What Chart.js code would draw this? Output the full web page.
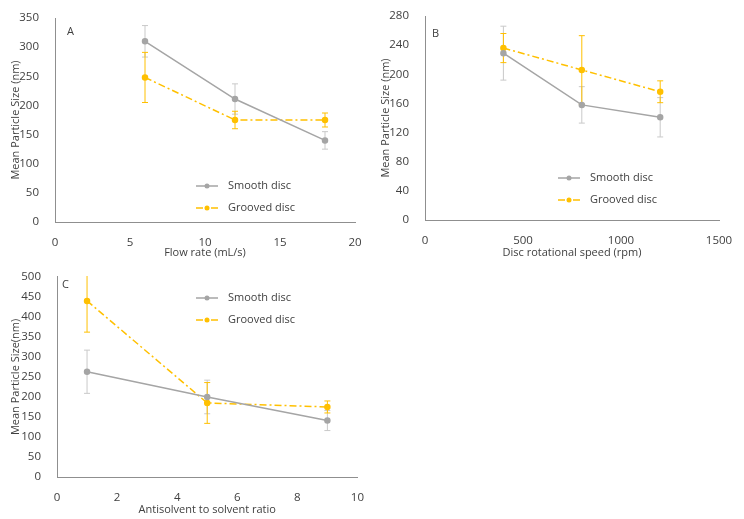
<!DOCTYPE html>
<html>
<head>
<meta charset="utf-8">
<script src="https://cdn.jsdelivr.net/npm/chart.js@4/dist/chart.umd.min.js"></script>
<style>
  body { margin: 0; background: #fff; }
  .panel { position: absolute; }
</style>
</head>
<body>
<div class="panel" style="left:0;top:0;width:370px;height:262px"><canvas id="chartA"></canvas></div>
<div class="panel" style="left:370px;top:0;width:374px;height:262px"><canvas id="chartB"></canvas></div>
<div class="panel" style="left:0;top:262px;width:370px;height:257px"><canvas id="chartC"></canvas></div>
<script>
'use strict';

/*          DATA          */
// panel A: flow rate
const flowRate = [6, 12, 18];
const smoothA = [310, 211, 140];
const smoothAErr = [27, 26, 15];
const groovedA = [248, 175, 175];
const groovedAErr = [43, 15, 12];

// panel B: disc rotational speed
const discSpeed = [400, 800, 1200];
const smoothB = [229, 158, 141];
const smoothBErr = [37, 25, 27];
const groovedB = [236, 206, 176];
const groovedBErr = [20, 47, 15];

// panel C: antisolvent to solvent ratio
const solventRatio = [1, 5, 9];
const smoothC = [263, 200, 141];
const smoothCErr = [54, 42, 25];
const groovedC = [440, 185, 175];
const groovedCErr = [78, 51, 15];

const seriesNames = ['Smooth disc', 'Grooved disc'];

/*          STYLE          */
const FONT = 'Open Sans';
const GRAY = '#a5a5a5';
const GRAY_BAR = '#c9c9c9';
const YELLOW = '#ffc000';
const TEXT = '#404040';
const AXIS = '#8f8f8f';

// error bars, panel letter and in-plot legend
const extrasPlugin = {
  id: 'extras',
  beforeDatasetsDraw(chart, args, opts) {
    const ctx = chart.ctx;
    const area = chart.chartArea;
    const yScale = chart.scales.y;
    ctx.save();
    ctx.beginPath();
    ctx.rect(area.left, area.top - 1, area.right - area.left, area.bottom - area.top + 1);
    ctx.clip();
    chart.data.datasets.forEach((ds, i) => {
      const meta = chart.getDatasetMeta(i);
      ctx.strokeStyle = ds.errorColor;
      ctx.lineWidth = 1;
      meta.data.forEach((pt, j) => {
        const v = ds.data[j].y;
        const e = ds.errors[j];
        const top = yScale.getPixelForValue(v + e);
        const bot = yScale.getPixelForValue(v - e);
        ctx.beginPath();
        ctx.moveTo(pt.x, top);
        ctx.lineTo(pt.x, bot);
        ctx.moveTo(pt.x - 3, top);
        ctx.lineTo(pt.x + 3, top);
        ctx.moveTo(pt.x - 3, bot);
        ctx.lineTo(pt.x + 3, bot);
        ctx.stroke();
      });
    });
    ctx.restore();
  },
  afterDraw(chart, args, opts) {
    const ctx = chart.ctx;
    ctx.save();
    ctx.fillStyle = TEXT;
    ctx.font = '11px "' + FONT + '"';
    ctx.textBaseline = 'middle';
    ctx.textAlign = 'left';
    ctx.fillText(opts.letter, opts.letterX, opts.letterY);

    chart.data.datasets.forEach((ds, i) => {
      const y = opts.legendY + i * 22;
      const x = opts.legendX;
      ctx.strokeStyle = ds.borderColor;
      ctx.lineWidth = 1.5;
      ctx.setLineDash(ds.borderDash || []);
      ctx.beginPath();
      ctx.moveTo(x, y);
      ctx.lineTo(x + 22, y);
      ctx.stroke();
      ctx.setLineDash([]);
      ctx.fillStyle = ds.pointBackgroundColor;
      ctx.beginPath();
      ctx.arc(x + 11, y, 2.5, 0, Math.PI * 2);
      ctx.fill();
      ctx.fillStyle = TEXT;
      ctx.fillText(ds.label, x + 32, y);
    });
    ctx.restore();
  }
};

function buildDatasets(xs, smooth, smoothErr, grooved, groovedErr) {
  return [
    {
      label: seriesNames[0],
      data: xs.map((x, i) => ({ x: x, y: smooth[i] })),
      errors: smoothErr,
      errorColor: GRAY_BAR,
      borderColor: GRAY,
      backgroundColor: GRAY,
      pointBackgroundColor: GRAY,
      pointBorderColor: GRAY,
      borderWidth: 1.5,
      pointRadius: 2.5,
      showLine: true
    },
    {
      label: seriesNames[1],
      data: xs.map((x, i) => ({ x: x, y: grooved[i] })),
      errors: groovedErr,
      errorColor: YELLOW,
      borderColor: YELLOW,
      backgroundColor: YELLOW,
      pointBackgroundColor: YELLOW,
      pointBorderColor: YELLOW,
      borderWidth: 1.5,
      borderDash: [7, 3, 2, 3],
      pointRadius: 2.5,
      showLine: true
    }
  ];
}

// plain numbers, no thousands separator
const plainTick = (value) => String(value);

function makeChart(id, p) {
  return new Chart(document.getElementById(id), {
    type: 'scatter',
    data: { datasets: p.datasets },
    options: {
      responsive: true,
      maintainAspectRatio: false,
      animation: false,
      layout: { padding: { top: p.top, right: p.right, left: 0, bottom: 0 } },
      scales: {
        x: {
          type: 'linear',
          min: p.xMin, max: p.xMax,
          grid: { display: false },
          border: { display: true, color: AXIS, width: 1 },
          ticks: { stepSize: p.xStep, color: TEXT, padding: 6, callback: plainTick, font: { family: FONT, size: 11.5 } },
          title: { display: true, text: p.xTitle, color: TEXT, padding: { top: 0, bottom: 3 }, font: { family: FONT, size: 11 } },
          afterFit(scale) { scale.height = p.xHeight; }
        },
        y: {
          min: p.yMin, max: p.yMax,
          grid: { display: false },
          border: { display: true, color: AXIS, width: 1 },
          ticks: { stepSize: p.yStep, color: TEXT, padding: 8, callback: plainTick, font: { family: FONT, size: 11.5 } },
          title: { display: true, text: p.yTitle, color: TEXT, padding: { top: 9, bottom: 0 }, font: { family: FONT, size: 11 } },
          afterFit(scale) { scale.width = p.yWidth; }
        }
      },
      plugins: {
        legend: { display: false },
        tooltip: { enabled: false },
        extras: p.extras
      }
    },
    plugins: [extrasPlugin]
  });
}

makeChart('chartA', {
  datasets: buildDatasets(flowRate, smoothA, smoothAErr, groovedA, groovedAErr),
  xMin: 0, xMax: 20, xStep: 5, yMin: 0, yMax: 350, yStep: 50,
  xTitle: 'Flow rate (mL/s)', yTitle: 'Mean Particle Size (nm)',
  top: 18, right: 15, xHeight: 40, yWidth: 55,
  extras: { letter: 'A', letterX: 67, letterY: 32, legendX: 196, legendY: 186 }
});

makeChart('chartB', {
  datasets: buildDatasets(discSpeed, smoothB, smoothBErr, groovedB, groovedBErr),
  xMin: 0, xMax: 1500, xStep: 500, yMin: 0, yMax: 280, yStep: 40,
  xTitle: 'Disc rotational speed (rpm)', yTitle: 'Mean Particle Size (nm)',
  top: 16, right: 25, xHeight: 42, yWidth: 55,
  extras: { letter: 'B', letterX: 62, letterY: 34, legendX: 188, legendY: 178 }
});

makeChart('chartC', {
  datasets: buildDatasets(solventRatio, smoothC, smoothCErr, groovedC, groovedCErr),
  xMin: 0, xMax: 10, xStep: 2, yMin: 0, yMax: 500, yStep: 50,
  xTitle: 'Antisolvent to solvent ratio', yTitle: 'Mean Particle Size(nm)',
  top: 12, right: 7, xHeight: 42, yWidth: 57,
  extras: { letter: 'C', letterX: 62, letterY: 23, legendX: 196, legendY: 36 }
});
</script>
</body>
</html>
